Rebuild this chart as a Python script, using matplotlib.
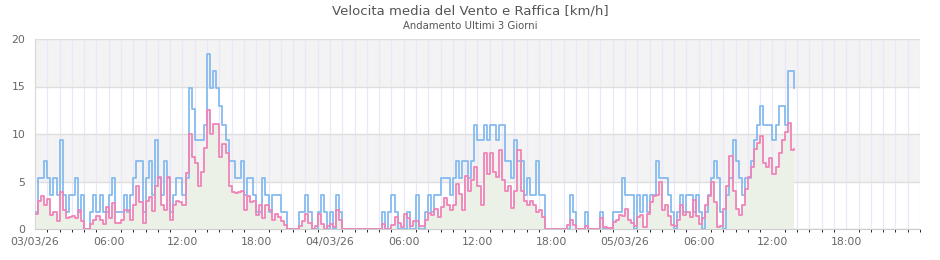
import numpy as np
import pandas as pd
import matplotlib
matplotlib.use('Agg')
import matplotlib.pyplot as plt
import matplotlib.dates as mdates

# raffica (gust) km/h, one value every 15 min from 03/03/26 00:00
gust = [1.8, 5.4, 5.4, 7.2,  5.4, 3.6, 5.4, 3.6,  9.4, 3.6, 1.8, 3.6,  3.6, 5.4, 1.8, 3.6,
        0, 0, 1.8, 3.6,  1.8, 3.6, 1.8, 1.8,  3.6, 5.4, 1.8, 1.8,  1.8, 3.6, 1.8, 3.6,
        5.4, 7.2, 7.2, 1.8,  5.4, 7.2, 3.6, 9.4,  5.4, 3.6, 7.2, 5.4,  1.8, 3.6, 5.4, 5.4,
        3.6, 5.4, 14.8, 12.6,  9.4, 9.4, 9.4, 11,  18.4, 14.8, 16.6, 14.8,  12.9, 11, 9.4, 7.2,
        7.2, 5.4, 5.4, 7.2,  3.6, 5.4, 5.4, 3.6,  1.8, 1.8, 5.4, 3.6,  1.8, 3.6, 3.6, 3.6,
        1.8, 1.8, 0, 0,  0, 0, 1.8, 1.8,  3.6, 1.8, 0, 0,  1.8, 3.6, 1.8, 0,
        1.8, 0, 3.6, 1.8,  0, 0, 0, 0,  0, 0, 0, 0,  0, 0, 0, 0,
        0, 1.8, 0, 1.8,  3.6, 1.8, 0, 0,  0, 1.8, 0, 0,  3.6, 0, 0, 1.8,
        3.6, 1.8, 3.6, 3.6,  5.4, 5.4, 5.4, 3.6,  5.4, 7.2, 5.4, 7.2,  7.2, 5.4, 7.2, 11,
        9.4, 9.4, 11, 9.4,  11, 11, 9.4, 11,  11, 7.2, 7.2, 5.4,  9.4, 7.2, 7.2, 3.6,
        5.4, 3.6, 3.6, 7.2,  3.6, 3.6, 0, 0,  0, 0, 0, 0,  0, 0, 3.6, 1.8,
        0, 0, 0, 1.8,  0, 0, 0, 0,  1.8, 0, 0, 0,  1.8, 1.8, 1.8, 5.4,
        3.6, 3.6, 3.6, 0,  3.6, 1.8, 3.6, 1.8,  3.6, 3.6, 7.2, 5.4,  5.4, 5.4, 3.6, 1.8,
        0, 1.8, 3.6, 1.8,  3.6, 3.6, 1.8, 3.6,  1.8, 0, 1.8, 3.6,  5.4, 7.2, 5.4, 1.8,
        0, 3.6, 5.4, 9.4,  7.2, 5.4, 3.6, 5.4,  5.4, 7.2, 9.4, 11,  12.9, 11, 11, 11,
        9.4, 11, 12.9, 12.9,  11, 16.6, 16.6, 14.8]

# velocita media km/h, same times
media = [1.6, 3.0, 3.5, 2.5,  3.2, 1.5, 1.8, 0.8,  3.9, 2.0, 1.2, 1.3,  1.4, 1.2, 2.0, 0.8,
         0, 0, 0.5, 1.0,  1.4, 1.0, 0.5, 2.3,  1.2, 2.7, 0.6, 0.6,  1.0, 2.0, 2.0, 1.0,
         2.5, 4.5, 2.8, 0.6,  3.0, 3.4, 1.9, 4.5,  5.5, 2.5, 2.0, 5.5,  1.0, 2.5, 3.0, 2.8,
         2.5, 5.9, 10.0, 7.6,  7.0, 4.5, 6.0, 8.5,  12.5, 10.0, 11.1, 11.1,  7.6, 9.0, 8.0, 4.5,
         3.9, 3.8, 3.9, 4.0,  2.0, 3.5, 2.8, 3.0,  1.5, 2.5, 1.2, 2.5,  2.0, 1.0, 1.6, 1.3,
         0.8, 0.4, 0, 0,  0, 0, 0.3, 0.8,  1.6, 0.6, 0, 0.3,  1.6, 0.5, 0, 0.3,
         0.5, 0.2, 2.0, 1.0,  0, 0, 0, 0,  0, 0, 0, 0,  0, 0, 0, 0,
         0, 0.5, 0, 0,  0.4, 1.3, 0.6, 0.2,  1.6, 1.2, 0.3, 0.8,  0.8, 0.3, 0.3, 1.0,
         1.7, 1.5, 2.1, 1.3,  2.3, 3.3, 2.5, 2.0,  2.5, 4.7, 3.7, 2.0,  5.6, 4.0, 5.2, 6.5,
         4.5, 2.5, 8.0, 5.8,  8.0, 6.0, 5.5, 8.3,  5.2, 4.0, 4.5, 2.2,  4.0, 8.3, 4.0, 3.0,
         2.5, 3.0, 2.5, 1.8,  2.0, 1.3, 0, 0,  0, 0, 0, 0,  0, 0.4, 1.0, 0.4,
         0, 0, 0, 0.3,  0, 0, 0, 0,  1.2, 0.2, 0.1, 0.1,  0.7, 1.0, 1.5, 1.4,
         2.1, 1.0, 0.6, 0.3,  1.3, 1.5, 0.2, 1.6,  2.8, 3.5, 3.6, 4.9,  2.0, 2.5, 1.4, 0.4,
         0.3, 1.0, 2.5, 1.5,  1.8, 1.3, 3.1, 1.4,  0.5, 1.2, 2.5, 3.5,  4.9, 2.8, 0.2, 0.3,
         2.1, 4.5, 7.7, 4.0,  2.1, 1.5, 2.5, 4.2,  5.5, 6.5, 8.4, 9.1,  9.8, 7.0, 6.5, 7.5,
         5.8, 6.5, 8.0, 9.4,  10.2, 11.2, 8.3, 8.4]

times = pd.date_range('2026-03-03 00:00', periods=len(gust), freq='15min')
tick_times = pd.date_range('2026-03-03 00:00', '2026-03-05 18:00', freq='6h')
tick_labels = [t.strftime('%d/%m/%y') if t.hour == 0 else t.strftime('%H:%M') for t in tick_times]

fig = plt.figure(figsize=(9.4, 2.6), dpi=100)
ax = fig.add_axes([35/940, 31/260, 885/940, 190/260])

ax.axhspan(5, 10, color='#f3f3f3', zorder=0, lw=0)
ax.axhspan(15, 20, color='#f3f3f3', zorder=0, lw=0)

ax.xaxis.set_minor_locator(mdates.HourLocator(interval=1))
ax.grid(which='minor', axis='x', color='#eae8f8', lw=0.9, zorder=1)
ax.grid(which='major', axis='x', color='#eae8f8', lw=0.9, zorder=1)
ax.grid(which='major', axis='y', color='#dedede', lw=1.0, zorder=1)

ax.fill_between(times, media, step='post', color='#ecf1e8', lw=0, zorder=2)
ax.plot(times, gust, drawstyle='steps-post', color='#86bbef', lw=1.3, zorder=3)
ax.plot(times, media, drawstyle='steps-post', color='#ef84b9', lw=1.3, zorder=4)

ax.set_xlim(pd.Timestamp('2026-03-03 00:00'), pd.Timestamp('2026-03-06 00:00'))
ax.set_ylim(0, 20)
ax.set_yticks([0, 5, 10, 15, 20])
ax.set_xticks(tick_times)
ax.set_xticklabels(tick_labels)
ax.tick_params(axis='both', length=0, labelsize=7.8, labelcolor='#666666')
ax.tick_params(axis='x', pad=6)
ax.tick_params(axis='y', pad=7)

for s in ['top', 'right']:
    ax.spines[s].set_visible(False)
ax.spines['left'].set_color('#d8d8d8')
ax.spines['bottom'].set_color('#cccccc')

fig.text(470/940, 1 - 11/260, 'Velocita media del Vento e Raffica [km/h]', ha='center', va='center',
         fontsize=9.5, color='#555555')
fig.text(470/940, 1 - 26/260, 'Andamento Ultimi 3 Giorni', ha='center', va='center',
         fontsize=7.3, color='#555555')

fig.savefig('out.png', dpi=100)
